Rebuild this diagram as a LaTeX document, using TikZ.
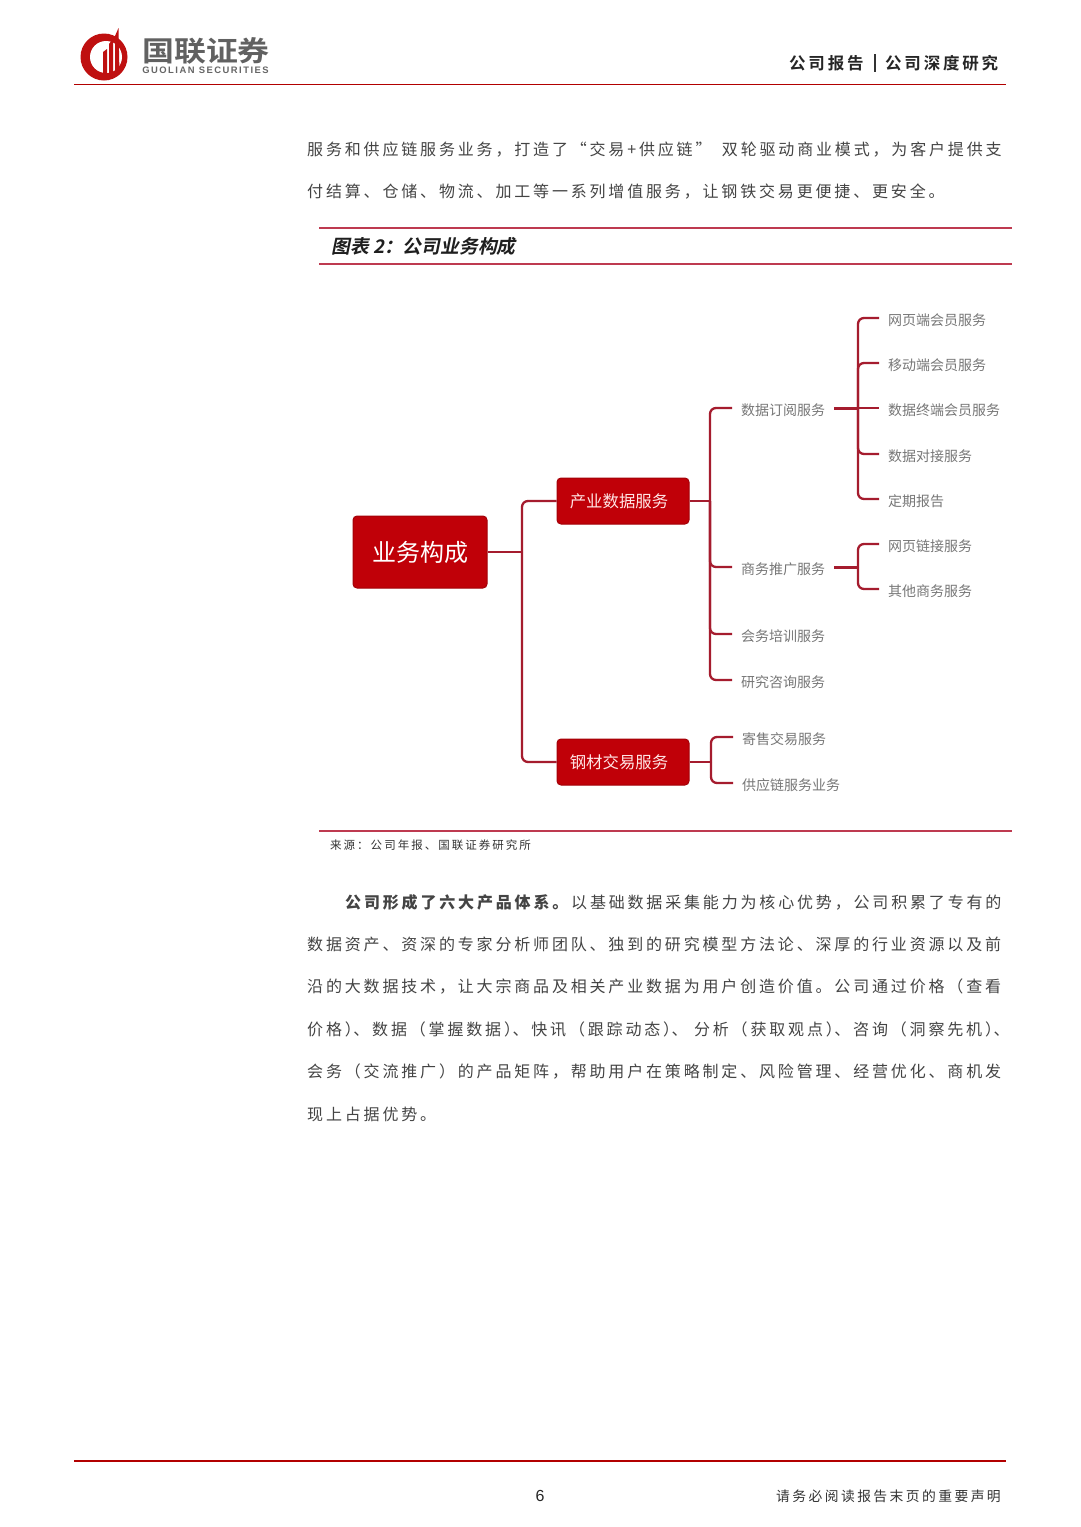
\documentclass[tikz,border=0pt]{standalone}
\usepackage{fontspec}
\setmainfont{Noto Sans CJK SC}
\newfontfamily\bodyfont[LetterSpace=17.7]{Noto Sans CJK SC}
\newfontfamily\headfont[LetterSpace=17,BoldFont={Noto Sans CJK SC Bold}]{Noto Sans CJK SC}
\newfontfamily\capfont[BoldFont={Noto Sans CJK SC Bold},BoldFeatures={FakeSlant=0.2}]{Noto Sans CJK SC}
\newfontfamily\srcfont[LetterSpace=17.5]{Noto Sans CJK SC}
\newfontfamily\brandfont[FakeStretch=1.14,BoldFont={Noto Sans CJK SC Bold},BoldFeatures={FakeStretch=1.14}]{Noto Sans CJK SC}
\newfontfamily\latinfont{Liberation Sans}
\newfontfamily\logofont[LetterSpace=16]{Liberation Sans}
\definecolor{linkred}{HTML}{A51C2E}
\definecolor{boxred}{HTML}{C00008}
\definecolor{rulered}{HTML}{BE3A50}
\definecolor{logored}{HTML}{BF1010}
\definecolor{leafgrey}{HTML}{777777}
\definecolor{bodygrey}{HTML}{444444}
\tikzset{
    link/.style={draw=linkred, line width=2.3pt, rounded corners=6pt},
    heavylink/.style={link, line width=3pt},
    rootbox/.style={draw=boxred!85!black, fill=boxred, rounded corners=4pt, line width=1pt, text=white, minimum width=134pt, minimum height=72pt, font=\fontsize{24}{24}\selectfont},
    subbox/.style={draw=boxred!85!black, fill=boxred, rounded corners=4pt, line width=1pt, text=white!90!red, minimum width=132pt, minimum height=46pt, font=\fontsize{16.4}{16.4}\selectfont},
    leaftext/.style={anchor=west, inner xsep=9pt, inner ysep=0pt, text=leafgrey, text height=16pt, text depth=2pt, font=\fontsize{14}{14}\selectfont},
    bodyline/.style={anchor=west, inner sep=0pt, text=bodygrey, font=\bodyfont\fontsize{16}{16}\selectfont},
}
\begin{document}
\begin{tikzpicture}[x=1pt, y=-1pt]
    \useasboundingbox (0,0) rectangle (1080,1527);
    \fill[white] (0,0) rectangle (1080,1527);

    \fill[logored] (104,57) circle (23.5);
    \fill[white] (106,57) circle (16);
    \fill[logored] (103,75) -- (103,52) -- (107,49) -- (107,75) -- cycle;
    \fill[logored] (109,75) -- (109,44) -- (113,39) -- (113,75) -- cycle;
    \fill[logored] (115,76) -- (115,36) -- (118.5,28) -- (119.5,74) -- cycle;
    \node (logotext) at (206,51) [inner sep=0pt, text=black!62, font=\brandfont\fontsize{28}{28}\selectfont\bfseries] {国联证券};
    \node (logolatin) at (205.5,70) [inner sep=0pt, text=black!60, font=\logofont\fontsize{9.4}{10}\selectfont\bfseries] {GUOLIAN SECURITIES};
    \node (headleft) at (789,63) [anchor=west, inner sep=0pt, text=black!85, font=\headfont\fontsize{16.5}{16}\selectfont\bfseries] {公司报告};
    \node (headright) at (885,63) [anchor=west, inner sep=0pt, text=black!85, font=\headfont\fontsize{16.5}{16}\selectfont\bfseries] {公司深度研究};
    \draw[black!80, line width=1.8pt] (875,54) -- (875,72);
    \draw[red!70!black, line width=1.8pt] (74,84.5) -- (1006,84.5);

    \node (bodya) at (307,150) [bodyline] {服务和供应链服务业务，打造了“交易+供应链” \kern4pt双轮驱动商业模式，为客户提供支};
    \node (bodyb) at (307,192) [bodyline] {付结算、仓储、物流、加工等一系列增值服务，让钢铁交易更便捷、更安全。};

    \draw[rulered, line width=1.1pt] (319,228) -- (1012,228);
    \draw[rulered, line width=1.1pt] (319,264) -- (1012,264);
    \node (figtitle) at (331,246) [anchor=west, inner sep=0pt, text=black!88, font=\capfont\fontsize{18.8}{19}\selectfont\bfseries] {图表 2：公司业务构成};

    \node (root) at (420,552) [rootbox] {业务构成};
    \node (datasvc) at (623,501) [subbox] {产业数据服务\kern8pt};
    \node (steelsvc) at (623,762) [subbox] {钢材交易服务\kern8pt};

    \node (subscr) at (732,408) [leaftext] {数据订阅服务};
    \node (promo) at (732,567) [leaftext] {商务推广服务};
    \node (confer) at (732,634) [leaftext] {会务培训服务};
    \node (consult) at (732,680) [leaftext] {研究咨询服务};
    \node (consign) at (733,737) [leaftext] {寄售交易服务};
    \node (supply) at (733,783) [leaftext] {供应链服务业务};

    \node (webvip) at (879,318) [leaftext] {网页端会员服务};
    \node (mobvip) at (879,363) [leaftext] {移动端会员服务};
    \node (termvip) at (879,408) [leaftext] {数据终端会员服务};
    \node (dock) at (879,454) [leaftext] {数据对接服务};
    \node (report) at (879,499) [leaftext] {定期报告};
    \node (weblink) at (879,544) [leaftext] {网页链接服务};
    \node (otherbiz) at (879,589) [leaftext] {其他商务服务};

    \coordinate (rootfork) at (522,552);
    \coordinate (datafork) at (710,501);
    \coordinate (steelfork) at (711,762);
    \coordinate (subfork) at (858,408);
    \coordinate (promofork) at (858,567);

    \draw[link] (root.east) -- (rootfork);
    \draw[link] (rootfork) |- (datasvc.west);
    \draw[link] (rootfork) |- (steelsvc.west);

    \draw[link] (datasvc.east) -- (datafork);
    \draw[link] (datafork) |- (subscr.west);
    \draw[link] (datafork) |- (promo.west);
    \draw[link] (datafork) |- (confer.west);
    \draw[link] (datafork) |- (consult.west);

    \draw[link] (steelsvc.east) -- (steelfork);
    \draw[link] (steelfork) |- (consign.west);
    \draw[link] (steelfork) |- (supply.west);

    \draw[heavylink] (subscr.east) -- (subfork);
    \draw[link] (subfork) -- (termvip.west);
    \draw[link] (subfork) |- (webvip.west);
    \draw[link] (subfork) |- (mobvip.west);
    \draw[link] (subfork) |- (dock.west);
    \draw[link] (subfork) |- (report.west);

    \draw[heavylink] (promo.east) -- (promofork);
    \draw[link] (promofork) |- (weblink.west);
    \draw[link] (promofork) |- (otherbiz.west);

    \draw[rulered, line width=1.1pt] (319,831) -- (1012,831);
    \node (source) at (330,845) [anchor=west, inner sep=0pt, text=black!80, font=\srcfont\fontsize{11.5}{12}\selectfont] {来源：公司年报、国联证券研究所};

    \node (bodyc) at (345,902) [bodyline] {\textbf{公司形成了六大产品体系。}以基础数据采集能力为核心优势，公司积累了专有的};
    \node (bodyd) at (307,944) [bodyline] {数据资产、资深的专家分析师团队、独到的研究模型方法论、深厚的行业资源以及前};
    \node (bodye) at (307,986) [bodyline] {沿的大数据技术，让大宗商品及相关产业数据为用户创造价值。公司通过价格（查看};
    \node (bodyf) at (307,1029) [bodyline] {价格）\kern-7.5pt、数据（掌握数据）\kern-7.5pt、快讯（跟踪动态）\kern-7.5pt、 分析（获取观点）\kern-7.5pt、咨询（洞察先机）\kern-7.5pt、};
    \node (bodyg) at (307,1071) [bodyline] {会务（交流推广）的产品矩阵，帮助用户在策略制定、风险管理、经营优化、商机发};
    \node (bodyh) at (307,1114) [bodyline] {现上占据优势。};

    \draw[red!70!black, line width=1.8pt] (74,1461) -- (1006,1461);
    \node (pagenum) at (540,1496) [inner sep=0pt, text=black!85, font=\latinfont\fontsize{16}{16}\selectfont] {6};
    \node (notice) at (776,1496) [anchor=west, inner sep=0pt, text=black!80, font=\srcfont\fontsize{13.8}{14}\selectfont] {请务必阅读报告末页的重要声明};
\end{tikzpicture}
\end{document}
